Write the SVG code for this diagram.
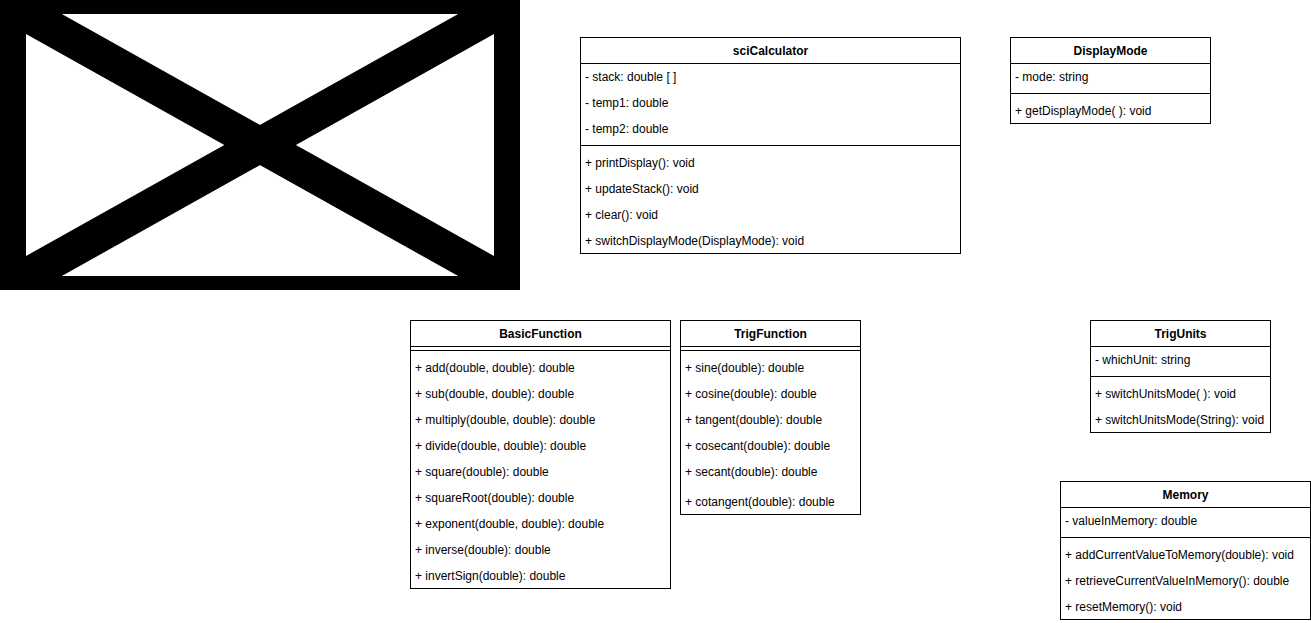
<svg xmlns="http://www.w3.org/2000/svg" width="1311" height="623" viewBox="0 0 1311 623">
<style>
.box{fill:#ffffff;stroke:#000000;stroke-width:1}
.sep{stroke:#000000;stroke-width:1;fill:none}
text{font-family:"Liberation Sans",Arial,Helvetica,sans-serif;font-size:12px;fill:#000000}
.title{font-weight:bold;text-anchor:middle}
</style>
<defs>
<clipPath id="imgClip"><rect x="26" y="14" width="468" height="262"/></clipPath>
</defs>
<rect x="0" y="0" width="1311" height="623" fill="#ffffff"/>

<g id="image-placeholder">
<rect x="0" y="0" width="520" height="290" fill="#000000"/>
<rect x="26" y="14" width="468" height="262" fill="#ffffff"/>
<g clip-path="url(#imgClip)" stroke="#000000" stroke-width="35">
<line x1="26" y1="14" x2="494" y2="276"/>
<line x1="494" y1="14" x2="26" y2="276"/>
</g>
</g>

<g id="sciCalculator">
<rect class="box" x="580.5" y="37.5" width="380" height="216"/>
<line class="sep" x1="580.5" y1="63.5" x2="960.5" y2="63.5"/>
<line class="sep" x1="580.5" y1="145.5" x2="960.5" y2="145.5"/>
<text class="title" x="770.5" y="54.5">sciCalculator</text>
<text x="585" y="80.5">- stack: double [ ]</text>
<text x="585" y="106.5">- temp1: double</text>
<text x="585" y="132.5">- temp2: double</text>
<text x="585" y="166.5">+ printDisplay(): void</text>
<text x="585" y="192.5">+ updateStack(): void</text>
<text x="585" y="218.5">+ clear(): void</text>
<text x="585" y="244.5">+ switchDisplayMode(DisplayMode): void</text>
</g>

<g id="DisplayMode">
<rect class="box" x="1010.5" y="37.5" width="200" height="86"/>
<line class="sep" x1="1010.5" y1="63.5" x2="1210.5" y2="63.5"/>
<line class="sep" x1="1010.5" y1="93.5" x2="1210.5" y2="93.5"/>
<text class="title" x="1110.5" y="54.5">DisplayMode</text>
<text x="1015" y="80.5">- mode: string</text>
<text x="1015" y="114.5">+ getDisplayMode( ): void</text>
</g>

<g id="BasicFunction">
<rect class="box" x="410.5" y="320.5" width="260" height="268"/>
<line class="sep" x1="410.5" y1="346.5" x2="670.5" y2="346.5"/>
<line class="sep" x1="410.5" y1="350.5" x2="670.5" y2="350.5"/>
<text class="title" x="540.5" y="337.5">BasicFunction</text>
<text x="415" y="371.5">+ add(double, double): double</text>
<text x="415" y="397.5">+ sub(double, double): double</text>
<text x="415" y="423.5">+ multiply(double, double): double</text>
<text x="415" y="449.5">+ divide(double, double): double</text>
<text x="415" y="475.5">+ square(double): double</text>
<text x="415" y="501.5">+ squareRoot(double): double</text>
<text x="415" y="527.5">+ exponent(double, double): double</text>
<text x="415" y="553.5">+ inverse(double): double</text>
<text x="415" y="579.5">+ invertSign(double): double</text>
</g>

<g id="TrigFunction">
<rect class="box" x="680.5" y="320.5" width="180" height="194"/>
<line class="sep" x1="680.5" y1="346.5" x2="860.5" y2="346.5"/>
<line class="sep" x1="680.5" y1="350.5" x2="860.5" y2="350.5"/>
<text class="title" x="770.5" y="337.5">TrigFunction</text>
<text x="685" y="371.5">+ sine(double): double</text>
<text x="685" y="397.5">+ cosine(double): double</text>
<text x="685" y="423.5">+ tangent(double): double</text>
<text x="685" y="449.5">+ cosecant(double): double</text>
<text x="685" y="475.5">+ secant(double): double</text>
<text x="685" y="505.5">+ cotangent(double): double</text>
</g>

<g id="TrigUnits">
<rect class="box" x="1090.5" y="320.5" width="180" height="112"/>
<line class="sep" x1="1090.5" y1="346.5" x2="1270.5" y2="346.5"/>
<line class="sep" x1="1090.5" y1="376.5" x2="1270.5" y2="376.5"/>
<text class="title" x="1180.5" y="337.5">TrigUnits</text>
<text x="1095" y="363.5">- whichUnit: string</text>
<text x="1095" y="397.5">+ switchUnitsMode( ): void</text>
<text x="1095" y="423.5">+ switchUnitsMode(String): void</text>
</g>

<g id="Memory">
<rect class="box" x="1060.5" y="481.5" width="250" height="138"/>
<line class="sep" x1="1060.5" y1="507.5" x2="1310.5" y2="507.5"/>
<line class="sep" x1="1060.5" y1="537.5" x2="1310.5" y2="537.5"/>
<text class="title" x="1185.5" y="498.5">Memory</text>
<text x="1065" y="524.5">- valueInMemory: double</text>
<text x="1065" y="558.5">+ addCurrentValueToMemory(double): void</text>
<text x="1065" y="584.5">+ retrieveCurrentValueInMemory(): double</text>
<text x="1065" y="610.5">+ resetMemory(): void</text>
</g>

<g id="connectors"/>
</svg>
